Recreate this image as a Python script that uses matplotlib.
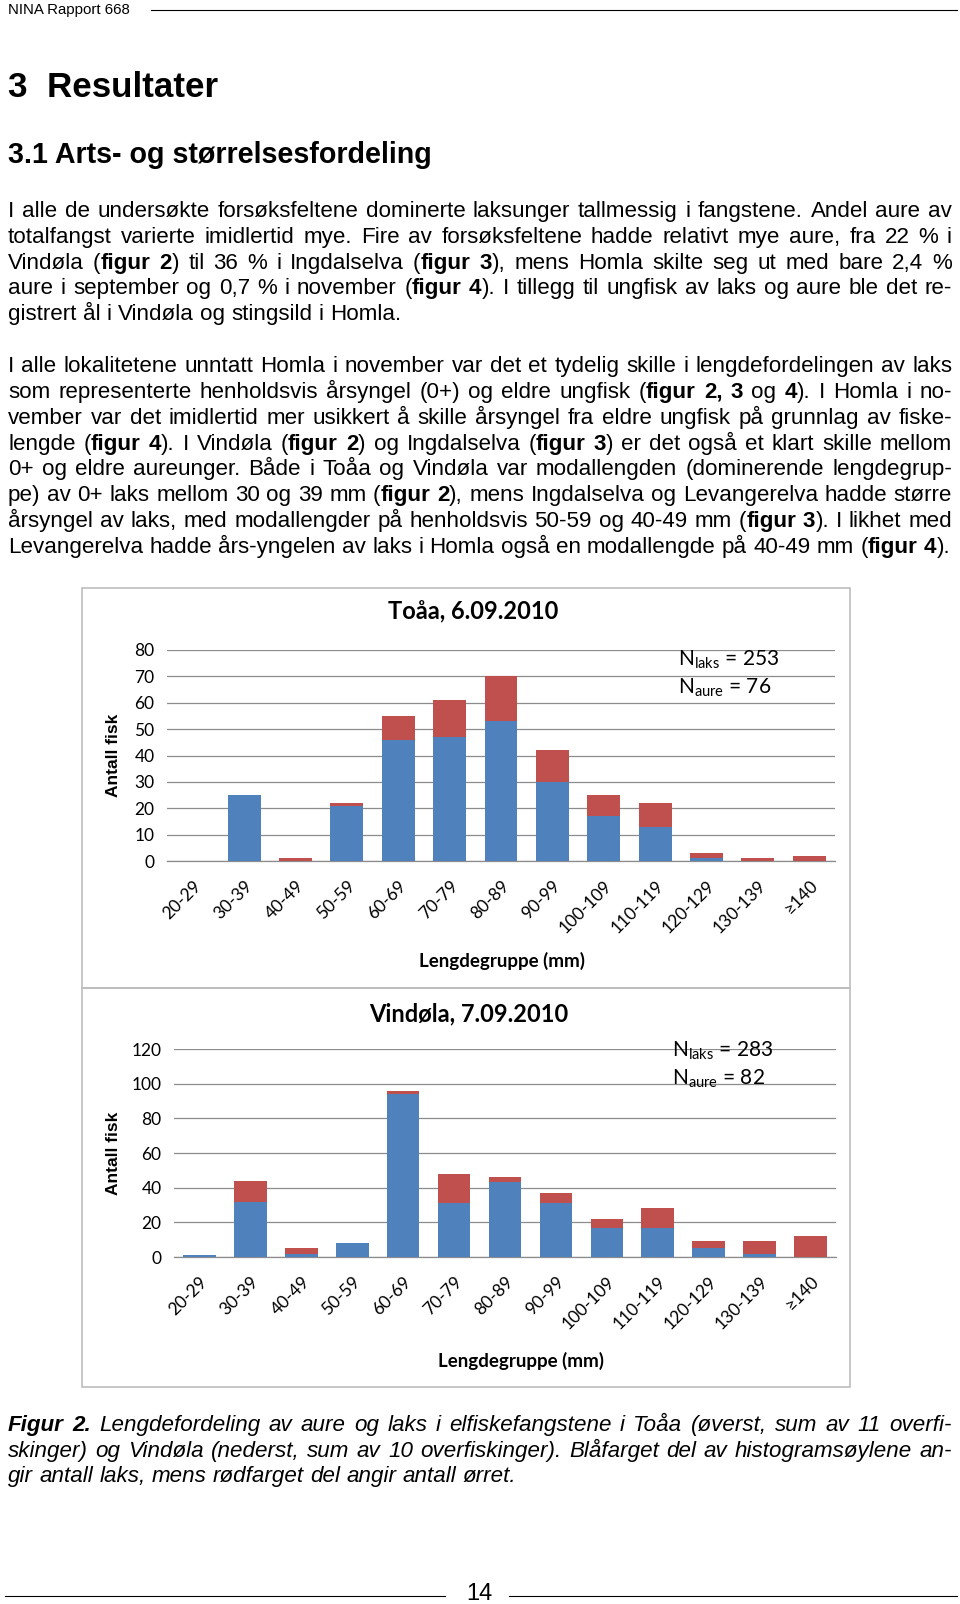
import matplotlib
matplotlib.use('Agg')
import matplotlib.pyplot as plt
from matplotlib import font_manager
from matplotlib.patches import Rectangle
from matplotlib.lines import Line2D
import numpy as np

# Page size in pixels
W, H = 960, 1604

# Chart data
groups = ['20-29', '30-39', '40-49', '50-59', '60-69', '70-79', '80-89',
          '90-99', '100-109', '110-119', '120-129', '130-139', '≥140']
toaa_laks = [0, 25, 0, 21, 46, 47, 53, 30, 17, 13, 1, 0, 0]
toaa_aure = [0, 0, 1, 1, 9, 14, 17, 12, 8, 9, 2, 1, 2]
vindola_laks = [1, 32, 2, 8, 94, 31, 43, 31, 17, 17, 5, 2, 0]
vindola_aure = [0, 12, 3, 0, 2, 17, 3, 6, 5, 11, 4, 7, 12]

# Page text
header = 'NINA Rapport 668'
heading1 = '3  Resultater'
heading2 = '3.1 Arts- og størrelsesfordeling'
para1 = [
    "I alle de undersøkte forsøksfeltene dominerte laksunger tallmessig i fangstene. Andel aure av",
    "totalfangst varierte imidlertid mye. Fire av forsøksfeltene hadde relativt mye aure, fra 22 % i",
    "Vindøla (**figur 2**) til 36 % i Ingdalselva (**figur 3**), mens Homla skilte seg ut med bare 2,4 %",
    "aure i september og 0,7 % i november (**figur 4**). I tillegg til ungfisk av laks og aure ble det re-",
    "gistrert ål i Vindøla og stingsild i Homla.",
]
para2 = [
    "I alle lokalitetene unntatt Homla i november var det et tydelig skille i lengdefordelingen av laks",
    "som representerte henholdsvis årsyngel (0+) og eldre ungfisk (**figur 2, 3** og **4**). I Homla i no-",
    "vember var det imidlertid mer usikkert å skille årsyngel fra eldre ungfisk på grunnlag av fiske-",
    "lengde (**figur 4**). I Vindøla (**figur 2**) og Ingdalselva (**figur 3**) er det også et klart skille mellom",
    "0+ og eldre aureunger. Både i Toåa og Vindøla var modallengden (dominerende lengdegrup-",
    "pe) av 0+ laks mellom 30 og 39 mm (**figur 2**), mens Ingdalselva og Levangerelva hadde større",
    "årsyngel av laks, med modallengder på henholdsvis 50-59 og 40-49 mm (**figur 3**). I likhet med",
    "Levangerelva hadde års-yngelen av laks i Homla også en modallengde på 40-49 mm (**figur 4**).",
]
caption = [
    "**Figur 2.** Lengdefordeling av aure og laks i elfiskefangstene i Toåa (øverst, sum av 11 overfi-",
    "skinger) og Vindøla (nederst, sum av 10 overfiskinger). Blåfarget del av histogramsøylene an-",
    "gir antall laks, mens rødfarget del angir antall ørret.",
]
page_no = '14'

BLUE = '#4F81BD'
RED = '#C0504D'
BODY = 'Liberation Sans'
CHART = ['Lato', 'DejaVu Sans']
TXT = 16.15

names = {f.name for f in font_manager.fontManager.ttflist}
NARROW = 'Liberation Sans Narrow' if 'Liberation Sans Narrow' in names else BODY

plt.rcParams['mathtext.fontset'] = 'custom'
plt.rcParams['mathtext.rm'] = 'Lato'

fig = plt.figure(figsize=(W / 100, H / 100), dpi=100)
fig.patch.set_facecolor('white')
renderer = fig.canvas.get_renderer()


def fx(x):
    return x / W


def fy(y):
    return 1 - y / H


def measure(s, bold, style, size):
    t = fig.text(0, 0, s, fontsize=size, family=BODY,
                 weight='bold' if bold else 'normal', style=style)
    w = t.get_window_extent(renderer).width
    t.remove()
    return w


def parse(line):
    chars = []
    for i, part in enumerate(line.split('**')):
        for ch in part:
            chars.append((ch, i % 2 == 1))
    tokens, cur = [], []
    for ch, b in chars:
        if ch == ' ':
            if cur:
                tokens.append(cur)
                cur = []
        else:
            cur.append((ch, b))
    if cur:
        tokens.append(cur)
    out = []
    for tok in tokens:
        segs = []
        for ch, b in tok:
            if segs and segs[-1][1] == b:
                segs[-1][0] += ch
            else:
                segs.append([ch, b])
        out.append(segs)
    return out


def text_line(line, y, justify, x0=8, x1=952, size=TXT, style='normal'):
    toks = parse(line)
    widths = [[measure(s, b, style, size) for s, b in tok] for tok in toks]
    total = sum(sum(w) for w in widths)
    if justify and len(toks) > 1:
        gap = (x1 - x0 - total) / (len(toks) - 1)
    else:
        gap = measure('x x', False, style, size) - measure('xx', False, style, size)
    x = x0
    for tok, ws in zip(toks, widths):
        for (s, b), w in zip(tok, ws):
            fig.text(fx(x), fy(y), s, fontsize=size, family=BODY, style=style,
                     weight='bold' if b else 'normal', ha='left', va='baseline')
            x += w
        x += gap


def paragraph(lines, y0, step, style='normal'):
    for i, line in enumerate(lines):
        text_line(line, y0 + i * step, justify=(i < len(lines) - 1), style=style)


# Header
fig.text(fx(8), fy(14), header, fontsize=10.8, family=NARROW, ha='left', va='baseline')
fig.add_artist(Line2D([fx(151), fx(957)], [fy(10), fy(10)], color='black', lw=0.8))

# Headings
fig.text(fx(8), fy(97), heading1, fontsize=25.2, family=BODY, weight='bold',
         ha='left', va='baseline')
fig.text(fx(8), fy(163), heading2, fontsize=20.6, family=BODY, weight='bold',
         ha='left', va='baseline')

# Body text
paragraph(para1, 217, 25.8)
paragraph(para2, 372, 25.85)


def chart(box, ax_px, title, title_xy, laks, aure, ymax, ystep, n_laks, n_aure,
          n_xy, ylab_xy, xlab_xy):
    bx0, by0, bx1, by1 = box
    fig.add_artist(Rectangle((fx(bx0), fy(by1)), (bx1 - bx0) / W, (by1 - by0) / H,
                             transform=fig.transFigure, fill=False,
                             edgecolor='#bdbdbd', lw=1.2))
    l, t, r, b = ax_px
    ax = fig.add_axes([fx(l), fy(b), (r - l) / W, (b - t) / H])
    x = np.arange(len(groups))
    ax.bar(x, laks, width=0.64, color=BLUE, zorder=3)
    ax.bar(x, aure, width=0.64, bottom=laks, color=RED, zorder=3)
    ax.set_xlim(-0.5, len(groups) - 0.5)
    ax.set_ylim(0, ymax)
    ax.set_yticks(np.arange(0, ymax + 1, ystep))
    ax.yaxis.grid(True, color='#8c8c8c', lw=0.9, zorder=0)
    ax.set_axisbelow(True)
    for s in ['top', 'right', 'left']:
        ax.spines[s].set_visible(False)
    ax.spines['bottom'].set_color('#8c8c8c')
    ax.spines['bottom'].set_linewidth(0.9)
    ax.set_xticks(x)
    ax.set_xticklabels(groups, rotation=45, ha='right', va='top',
                       rotation_mode='anchor', fontsize=12.5, family=CHART)
    ax.tick_params(axis='x', length=0, pad=12)
    ax.tick_params(axis='y', length=0, pad=9, labelsize=12.5)
    for lab in ax.get_yticklabels():
        lab.set_family(CHART)
    ax.set_facecolor('none')
    fig.text(fx(title_xy[0]), fy(title_xy[1]), title, fontsize=17, family=CHART,
             weight='bold', ha='center', va='center')
    fig.text(fx(n_xy[0]), fy(n_xy[1]), r'N$_{\mathrm{laks}}$ = %d' % n_laks,
             fontsize=15, family=CHART, ha='left', va='center')
    fig.text(fx(n_xy[0]), fy(n_xy[1] + 28), r'N$_{\mathrm{aure}}$ = %d' % n_aure,
             fontsize=15, family=CHART, ha='left', va='center')
    fig.text(fx(ylab_xy[0]), fy(ylab_xy[1]), 'Antall fisk', fontsize=12.5,
             family=BODY, weight='bold', rotation=90, ha='center', va='center')
    fig.text(fx(xlab_xy[0]), fy(xlab_xy[1]), 'Lengdegruppe (mm)', fontsize=13.5,
             family=CHART, weight='bold', ha='center', va='center')
    return ax


chart((82, 588, 850, 988), (167, 650, 835, 861), 'Toåa, 6.09.2010', (473, 612),
      toaa_laks, toaa_aure, 80, 10, sum(toaa_laks), sum(toaa_aure),
      (678, 660), (113, 755), (502, 961))
chart((82, 988, 850, 1387), (174, 1049, 836, 1257), 'Vindøla, 7.09.2010', (469, 1014),
      vindola_laks, vindola_aure, 120, 20, sum(vindola_laks), sum(vindola_aure),
      (672, 1051), (113, 1153), (521, 1361))

# Caption
paragraph(caption, 1431, 25.6, style='italic')

# Footer
fig.text(fx(479), fy(1600), page_no, fontsize=17, family=BODY, ha='center', va='baseline')
fig.add_artist(Line2D([fx(5), fx(445)], [fy(1596), fy(1596)], color='black', lw=0.8))
fig.add_artist(Line2D([fx(509), fx(957)], [fy(1596), fy(1596)], color='black', lw=0.8))

fig.savefig('out.png', dpi=100, facecolor='white')
